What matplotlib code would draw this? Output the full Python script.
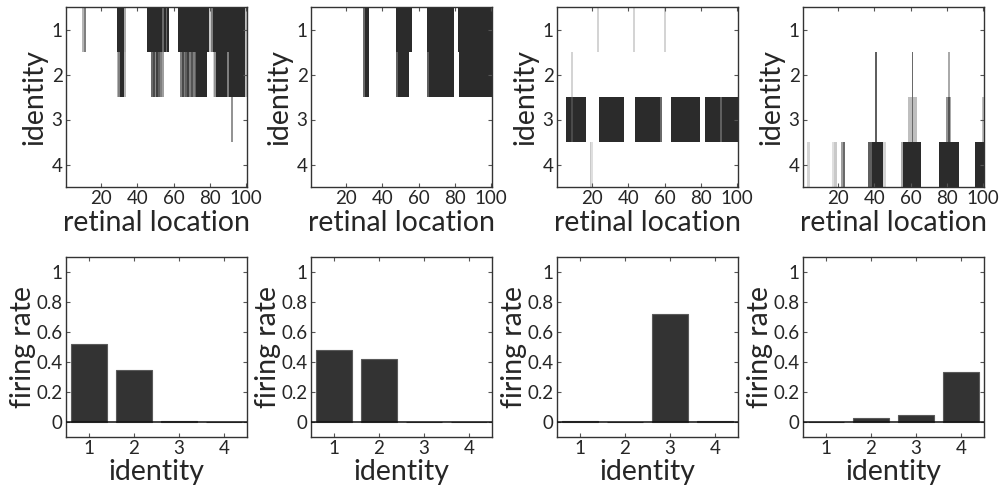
import numpy as np
import matplotlib
matplotlib.use("Agg")
import matplotlib.pyplot as plt
from matplotlib.colors import LinearSegmentedColormap
from matplotlib.ticker import FuncFormatter

plt.rcParams["font.family"] = ["Lato", "DejaVu Sans"]

identities = [1, 2, 3, 4]
n_locations = 100
location_ticks = [20, 40, 60, 80, 100]
rate_ticks = [0, 0.2, 0.4, 0.6, 0.8, 1]

# Activation maps: (identity row, first location, last location, level)
map1_segments = [
    (1, 10, 10, 0.35), (1, 11, 11, 0.6), (1, 29, 32, 1.0), (1, 33, 33, 0.4),
    (1, 46, 53, 1.0), (1, 54, 54, 0.7), (1, 55, 55, 1.0), (1, 56, 56, 0.7),
    (1, 57, 57, 1.0), (1, 63, 79, 1.0), (1, 80, 80, 0.25), (1, 81, 81, 0.6),
    (1, 82, 99, 1.0), (1, 100, 100, 0.3),
    (2, 29, 29, 0.35), (2, 30, 30, 0.6), (2, 31, 32, 1.0), (2, 33, 33, 0.35),
    (2, 48, 48, 0.7), (2, 49, 49, 0.85), (2, 50, 50, 0.55), (2, 51, 51, 0.9),
    (2, 52, 52, 0.75), (2, 53, 53, 0.6), (2, 54, 54, 0.45),
    (2, 64, 64, 0.6), (2, 65, 65, 0.85), (2, 66, 66, 0.6), (2, 67, 67, 0.75),
    (2, 68, 68, 0.9), (2, 69, 69, 0.6), (2, 70, 70, 0.8), (2, 71, 71, 0.6),
    (2, 72, 72, 0.75), (2, 73, 78, 1.0), (2, 82, 82, 0.2), (2, 83, 83, 0.5),
    (2, 84, 89, 1.0), (2, 90, 90, 0.6), (2, 91, 99, 1.0), (2, 100, 100, 0.3),
    (3, 92, 92, 0.5),
]
map2_segments = [
    (1, 30, 30, 0.7), (1, 31, 32, 1.0), (1, 48, 56, 1.0), (1, 65, 79, 1.0),
    (1, 82, 100, 1.0),
    (2, 30, 30, 0.7), (2, 31, 32, 1.0), (2, 48, 48, 0.75), (2, 49, 54, 1.0),
    (2, 65, 65, 0.75), (2, 66, 79, 1.0), (2, 83, 100, 1.0),
]
map3_segments = [
    (1, 23, 23, 0.2), (1, 43, 43, 0.2), (1, 60, 60, 0.2),
    (2, 9, 9, 0.2),
    (3, 6, 8, 1.0), (3, 9, 9, 0.85), (3, 10, 16, 1.0), (3, 24, 37, 1.0),
    (3, 44, 57, 1.0), (3, 58, 58, 0.7), (3, 64, 79, 1.0), (3, 83, 90, 1.0),
    (3, 91, 91, 0.75), (3, 92, 100, 1.0),
    (4, 19, 19, 0.25), (4, 20, 20, 0.15),
]
map4_segments = [
    (2, 41, 41, 0.75), (2, 61, 61, 0.7), (2, 81, 81, 0.4),
    (3, 41, 41, 0.75), (3, 59, 60, 0.3), (3, 61, 61, 0.7), (3, 62, 63, 0.3),
    (3, 80, 80, 0.5), (3, 81, 81, 0.8), (3, 82, 82, 0.4), (3, 100, 100, 0.3),
    (4, 3, 4, 0.2), (4, 17, 17, 0.15), (4, 18, 19, 0.25), (4, 22, 22, 0.45),
    (4, 23, 23, 0.7), (4, 37, 38, 0.75), (4, 39, 44, 1.0), (4, 45, 46, 0.2),
    (4, 55, 55, 0.4), (4, 56, 65, 1.0), (4, 76, 86, 1.0), (4, 96, 100, 1.0),
]

# Firing rate per identity unit for each stimulus
rates1 = [0.52, 0.35, 0.005, 0.002]
rates2 = [0.48, 0.42, 0.002, 0.002]
rates3 = [0.005, 0.003, 0.72, 0.005]
rates4 = [0.002, 0.03, 0.05, 0.335]

maps = [map1_segments, map2_segments, map3_segments, map4_segments]
rates = [rates1, rates2, rates3, rates4]


def build_map(segments):
    m = np.zeros((len(identities), n_locations))
    for row, c0, c1, level in segments:
        m[row - 1, c0 - 1:c1] = level
    return m


ink = "#2b2b2b"
text_col = "#262626"
cmap = LinearSegmentedColormap.from_list("ink", ["#ffffff", ink])

fig = plt.figure(figsize=(10.03, 4.91), dpi=100)
W, H = 1003, 491
lefts = [66, 311, 557, 803]
ax_w, ax_h = 181, 180
top_row_bottom = 187
bottom_row_bottom = 437

tick_fs = 13.5
label_fs = 20.5


def style_axes(ax):
    for s in ax.spines.values():
        s.set_color("#333333")
        s.set_linewidth(1.0)
    ax.tick_params(direction="in", top=True, right=True, length=3,
                   width=0.8, color="#555555", labelsize=tick_fs,
                   labelcolor=text_col, pad=2.5)


for i in range(4):
    # Activation map panel
    ax = fig.add_axes([lefts[i] / W, (H - top_row_bottom) / H, ax_w / W, ax_h / H])
    ax.imshow(build_map(maps[i]), cmap=cmap, vmin=0, vmax=1, aspect="auto",
              extent=[0.5, n_locations + 0.5, len(identities) + 0.5, 0.5],
              interpolation="nearest")
    ax.set_xticks(location_ticks)
    ax.set_yticks(identities)
    style_axes(ax)
    ax.set_xlabel("retinal location", fontsize=label_fs, color=text_col, labelpad=2)
    ax.set_ylabel("identity", fontsize=label_fs, color=text_col, labelpad=3)

    # Firing rate panel
    bx = fig.add_axes([lefts[i] / W, (H - bottom_row_bottom) / H, ax_w / W, ax_h / H])
    bx.bar(identities, rates[i], width=0.8, color="#333333",
           edgecolor="#5a5a5a", linewidth=0.8, zorder=2)
    bx.axhline(0, color="#111111", linewidth=1.1, zorder=3)
    bx.set_xlim(0.5, 4.5)
    bx.set_ylim(-0.1, 1.1)
    bx.set_xticks(identities)
    bx.set_yticks(rate_ticks)
    bx.yaxis.set_major_formatter(FuncFormatter(lambda v, p: "%g" % v))
    style_axes(bx)
    bx.set_xlabel("identity", fontsize=label_fs, color=text_col, labelpad=1)
    bx.set_ylabel("firing rate", fontsize=label_fs, color=text_col, labelpad=0)

fig.savefig("out.png", dpi=100)
